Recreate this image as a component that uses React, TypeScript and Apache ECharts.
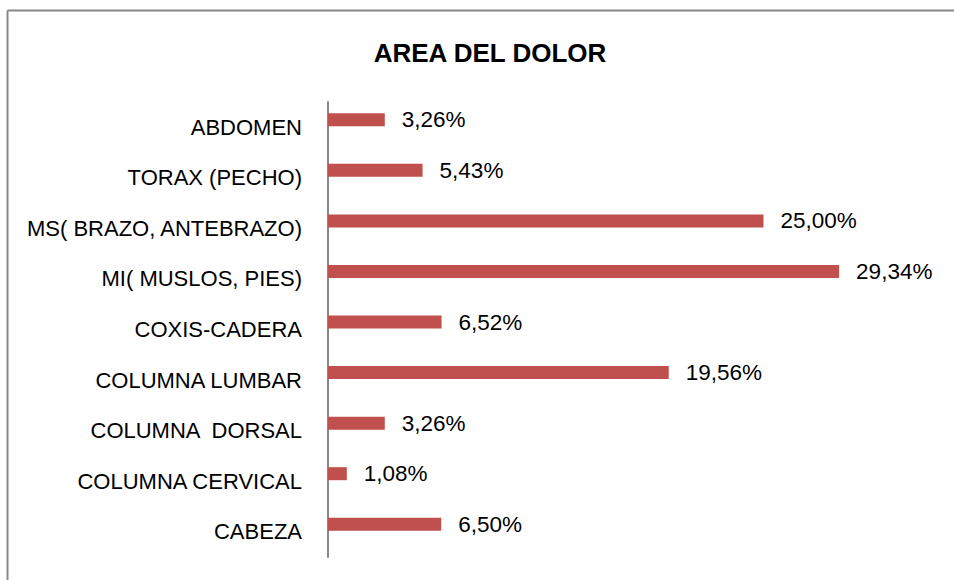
import React, { useEffect, useRef } from "react";
import * as echarts from "echarts";

const categories = [
  "CABEZA",
  "COLUMNA CERVICAL",
  "COLUMNA  DORSAL",
  "COLUMNA LUMBAR",
  "COXIS-CADERA",
  "MI( MUSLOS, PIES)",
  "MS( BRAZO, ANTEBRAZO)",
  "TORAX (PECHO)",
  "ABDOMEN",
];
const values = [6.5, 1.08, 3.26, 19.56, 6.52, 29.34, 25.0, 5.43, 3.26];
const emptySeries = categories.map(() => null);
const title = "AREA DEL DOLOR";

const FONT = "'Liberation Sans', Arial, sans-serif";

export default function App() {
  const ref = useRef<HTMLDivElement>(null);
  useEffect(() => {
    if (!ref.current) return;
    const chart = echarts.init(ref.current, null, { renderer: "svg" });
    const maxV = 30;
    const pxPer = 17.42;
    chart.setOption({
      animation: false,
      backgroundColor: "#ffffff",
      title: {
        text: title,
        left: 485,
        top: 35,
        textAlign: "center",
        textStyle: { fontFamily: FONT, fontWeight: "bold", fontSize: 26, color: "#000" },
      },
      graphic: [
        { type: "line", shape: { x1: 7.5, y1: 10.5, x2: 954, y2: 10.5 }, style: { stroke: "#888", lineWidth: 2 } },
        { type: "line", shape: { x1: 7.5, y1: 10.5, x2: 7.5, y2: 580 }, style: { stroke: "#888", lineWidth: 2 } },
      ],
      grid: {
        left: 328,
        top: 102,
        height: 455,
        width: maxV * pxPer,
        containLabel: false,
      },
      xAxis: {
        type: "value",
        min: 0,
        max: maxV,
        show: false,
        splitLine: { show: false },
      },
      yAxis: {
        type: "category",
        data: categories,
        axisLine: { show: true, lineStyle: { color: "#888", width: 2 } },
        axisTick: { show: false },
        axisLabel: {
          fontFamily: FONT,
          fontSize: 22,
          color: "#000",
          margin: 26,
        },
      },
      series: [
        {
          type: "bar",
          data: values,
          barWidth: 13,
          barGap: "15%",
          itemStyle: { color: "#C0504D" },
          label: {
            show: true,
            position: "right",
            distance: 17,
            fontFamily: FONT,
            fontSize: 22.5,
            color: "#000",
            formatter: (p: any) => p.value.toFixed(2).replace(".", ",") + "%",
          },
        },
        {
          type: "bar",
          data: emptySeries,
          barWidth: 13,
          barGap: "15%",
          itemStyle: { color: "#4F81BD" },
        },
      ],
    });
    return () => chart.dispose();
  }, []);
  return (
    <div
      ref={ref}
      style={{ position: "fixed", left: 0, top: 0, width: 954, height: 580 }}
    />
  );
}
